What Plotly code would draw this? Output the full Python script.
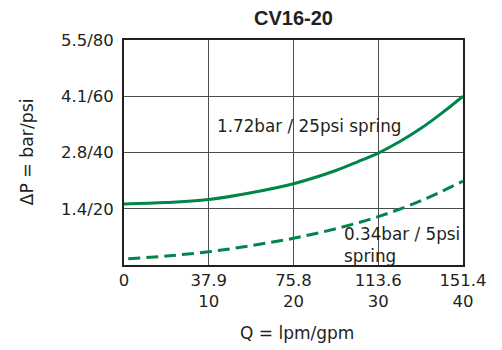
import plotly.graph_objects as go

# flow in gpm, pressure drop in psi
gpm_hi = [0, 5, 10, 15, 20, 25, 27.5, 30, 32.5, 35, 37.5, 40]
psi_hi = [21.7, 22.2, 23.3, 25.7, 28.9, 33.6, 36.6, 39.8, 43.8, 48.5, 54.0, 60.0]

gpm_lo = [0.5, 5, 10, 15, 20, 25, 30, 35, 40]
psi_lo = [2.2, 3.2, 4.7, 6.9, 9.5, 12.9, 17.2, 22.8, 29.8]

x_tickvals = [0, 10, 20, 30, 40]
x_ticktext = ["0", "37.9<br>10", "75.8<br>20", "113.6<br>30", "151.4<br>40"]
y_tickvals = [20, 40, 60, 80]
y_ticktext = ["1.4/20", "2.8/40", "4.1/60", "5.5/80"]

title = "CV16-20"
x_title = "Q = lpm/gpm"
y_title = "ΔP = bar/psi"
label_hi = "1.72bar / 25psi spring"
label_lo = "0.34bar / 5psi<br>spring"

GREEN = "#00854a"
TXT = "#231f20"
FONT = "DejaVu Sans, sans-serif"

W, H = 494, 342
L, R, T, B = 115.5, 455, 31.5, 257
PW, PH = R - L, B - T

fig = go.Figure()
fig.add_trace(go.Scatter(x=gpm_hi, y=psi_hi, mode="lines", line=dict(color=GREEN, width=3, shape="spline", smoothing=1),
                         showlegend=False, hoverinfo="skip"))
fig.add_trace(go.Scatter(x=gpm_lo, y=psi_lo, mode="lines", line=dict(color=GREEN, width=3, shape="spline", dash="12px,6px"),
                         showlegend=False, hoverinfo="skip"))

fig.update_layout(
    width=W, height=H,
    margin=dict(l=L, r=W - R, t=T, b=H - B, autoexpand=False),
    plot_bgcolor="white", paper_bgcolor="white",
    font=dict(family=FONT, color=TXT, size=17),
    title=dict(text="<b>" + title + "</b>", x=285.5 / W, xanchor="center", y=1, yanchor="top",
               pad=dict(t=3, b=0),
               font=dict(size=20, color=TXT, family="Liberation Sans, Arial, sans-serif")),
    xaxis=dict(range=[0, 40], tickvals=x_tickvals, ticktext=x_ticktext, showgrid=True,
               gridcolor="#4d4d4d", gridwidth=1, showline=True, linecolor="#231f20", linewidth=2, mirror=True,
               zeroline=False, ticks="", tickfont=dict(size=16.5, color=TXT), automargin=False,
               ticklabelstandoff=-1),
    yaxis=dict(range=[0, 80], tickvals=y_tickvals, ticktext=y_ticktext, showgrid=True,
               gridcolor="#4d4d4d", gridwidth=1, showline=True, linecolor="#231f20", linewidth=2, mirror=True,
               zeroline=False, ticks="", tickfont=dict(size=16.5, color=TXT), automargin=False,
               ticklabelstandoff=5),
    annotations=[
        dict(text=x_title, xref="paper", yref="paper", x=(288.7 - L) / PW, y=-(325 - B) / PH,
             xanchor="center", yanchor="middle", showarrow=False, font=dict(size=17, color=TXT)),
        dict(text=y_title, xref="paper", yref="paper", x=-(L - 18) / PW, y=(B - 143.5) / PH,
             xanchor="center", yanchor="middle", textangle=-90, showarrow=False, font=dict(size=17.3, color=TXT)),
        dict(text=label_hi, x=21.9, y=49.3, xref="x", yref="y", showarrow=False,
             xanchor="center", yanchor="middle", font=dict(size=16.8, color=TXT)),
        dict(text=label_lo, x=25.7, y=7.0, xref="x", yref="y", showarrow=False, align="left",
             xanchor="left", yanchor="middle", font=dict(size=16.8, color=TXT)),
    ],
)

fig.write_html("out.html")
